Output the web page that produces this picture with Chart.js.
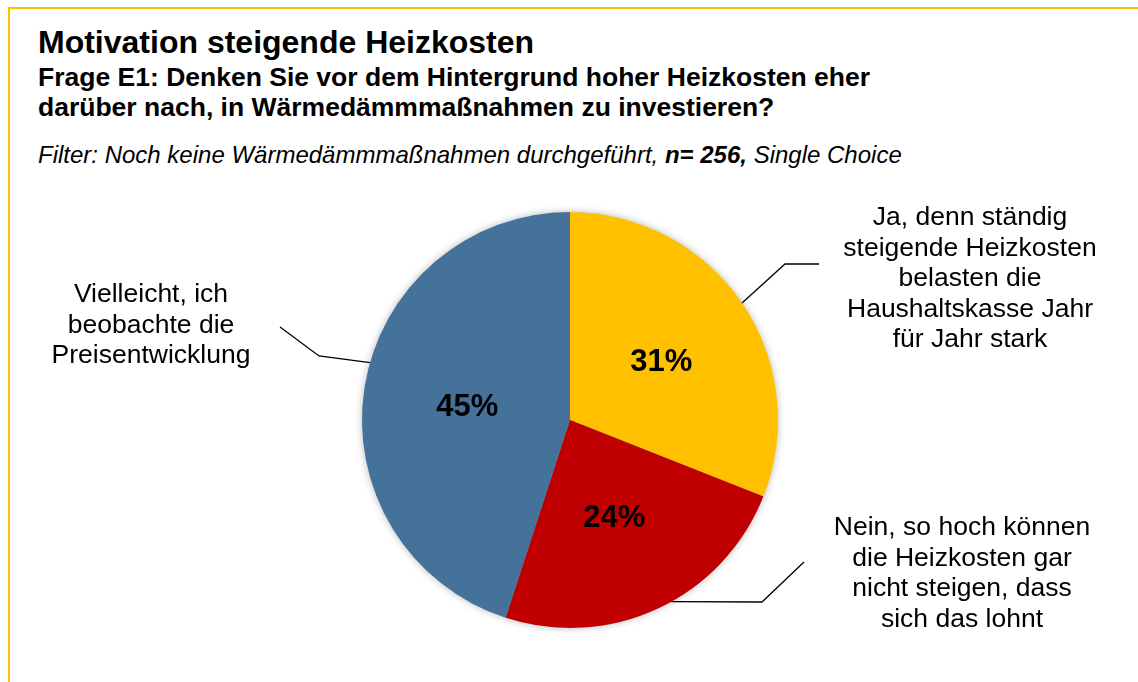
<!DOCTYPE html>
<html>
<head>
<meta charset="utf-8">
<script src="https://cdn.jsdelivr.net/npm/chart.js@4"></script>
<style>
  body { margin: 0; background: #fff; }
  #wrap { position: relative; width: 1138px; height: 682px; overflow: hidden; font-family: 'Liberation Sans', Arial, sans-serif; color: #000; }
  #frame { position: absolute; left: 8px; top: 7px; width: 1200px; height: 800px; border-top: 2px solid #FFC000; border-left: 2px solid #FFC000; }
  .txt { position: absolute; left: 38px; white-space: nowrap; }
  #title { top: 27px; font-size: 32px; font-weight: bold; line-height: 30px; }
  #subtitle { top: 62px; font-size: 26.5px; font-weight: bold; line-height: 30px; }
  #filter { top: 142px; font-size: 24px; font-style: italic; line-height: 26px; }
  canvas { position: absolute; left: 0; top: 0; }
</style>
</head>
<body>
<div id="wrap">
  <div id="frame"></div>
  <div class="txt" id="title">Motivation steigende Heizkosten</div>
  <div class="txt" id="subtitle">Frage E1: Denken Sie vor dem Hintergrund hoher Heizkosten eher<br>darüber nach, in Wärmedämmmaßnahmen zu investieren?</div>
  <div class="txt" id="filter">Filter: Noch keine Wärmedämmmaßnahmen durchgeführt, <b>n= 256,</b> Single Choice</div>
  <canvas id="pieChart" width="1138" height="682"></canvas>
</div>
<script>
const categories = [
    ['Ja, denn ständig', 'steigende Heizkosten', 'belasten die', 'Haushaltskasse Jahr', 'für Jahr stark'],
    ['Nein, so hoch können', 'die Heizkosten gar', 'nicht steigen, dass', 'sich das lohnt'],
    ['Vielleicht, ich', 'beobachte die', 'Preisentwicklung']
];
const shares = [31, 24, 45];
const sliceColors = ['#FFC000', '#C00000', '#44729B'];

// label placement (text centre x, first baseline, leader elbow and end, angle shift on the arc)
const labelLayout = [
    { x: 970, y: 225, elbow: [785, 264], end: [819, 264], shift: 0 },
    { x: 962, y: 535, elbow: [762, 602], end: [804, 562], shift: -4 },
    { x: 151, y: 302, elbow: [319, 356], end: [280, 327], shift: 7 }
];

const pieShadow = {
    id: 'pieShadow',
    beforeDatasetsDraw(chart) {
        const arc = chart.getDatasetMeta(0).data[0];
        const c = chart.ctx;
        c.save();
        c.shadowColor = 'rgba(0,0,0,0.35)';
        c.shadowBlur = 9;
        c.fillStyle = '#888';
        c.beginPath();
        c.arc(arc.x, arc.y, arc.outerRadius - 1, 0, Math.PI * 2);
        c.fill();
        c.restore();
    }
};

const pieLabels = {
    id: 'pieLabels',
    afterDatasetsDraw(chart) {
        const c = chart.ctx;
        const arcs = chart.getDatasetMeta(0).data;
        c.save();
        arcs.forEach((arc, i) => {
            const mid = (arc.startAngle + arc.endAngle) / 2;
            const r = arc.outerRadius;

            // percent inside the slice
            c.fillStyle = '#000';
            c.font = 'bold 31px "Liberation Sans", Arial, sans-serif';
            c.textAlign = 'center';
            c.textBaseline = 'middle';
            const d = i === 0 ? r * 0.53 : r * 0.5;
            c.fillText(shares[i] + '%', arc.x + Math.cos(mid) * d, arc.y + Math.sin(mid) * d + 4);

            // leader line
            const lay = labelLayout[i];
            const a = mid + lay.shift * Math.PI / 180;
            c.strokeStyle = '#000';
            c.lineWidth = 1.3;
            c.beginPath();
            c.moveTo(arc.x + Math.cos(a) * r, arc.y + Math.sin(a) * r);
            c.lineTo(lay.elbow[0], lay.elbow[1]);
            c.lineTo(lay.end[0], lay.end[1]);
            c.stroke();

            // category text
            c.font = '26.5px "Liberation Sans", Arial, sans-serif';
            c.textBaseline = 'alphabetic';
            categories[i].forEach((line, k) => {
                c.fillText(line, lay.x, lay.y + k * 30.5);
            });
        });
        c.restore();
    }
};

new Chart(document.getElementById('pieChart').getContext('2d'), {
    type: 'pie',
    data: {
        labels: categories.map(l => l.join(' ')),
        datasets: [{
            data: shares,
            backgroundColor: sliceColors,
            borderWidth: 0
        }]
    },
    options: {
        responsive: false,
        animation: false,
        devicePixelRatio: 1,
        layout: { padding: { left: 362, right: 360, top: 212, bottom: 54 } },
        plugins: {
            legend: { display: false },
            tooltip: { enabled: false }
        }
    },
    plugins: [pieShadow, pieLabels]
});
</script>
</body>
</html>
